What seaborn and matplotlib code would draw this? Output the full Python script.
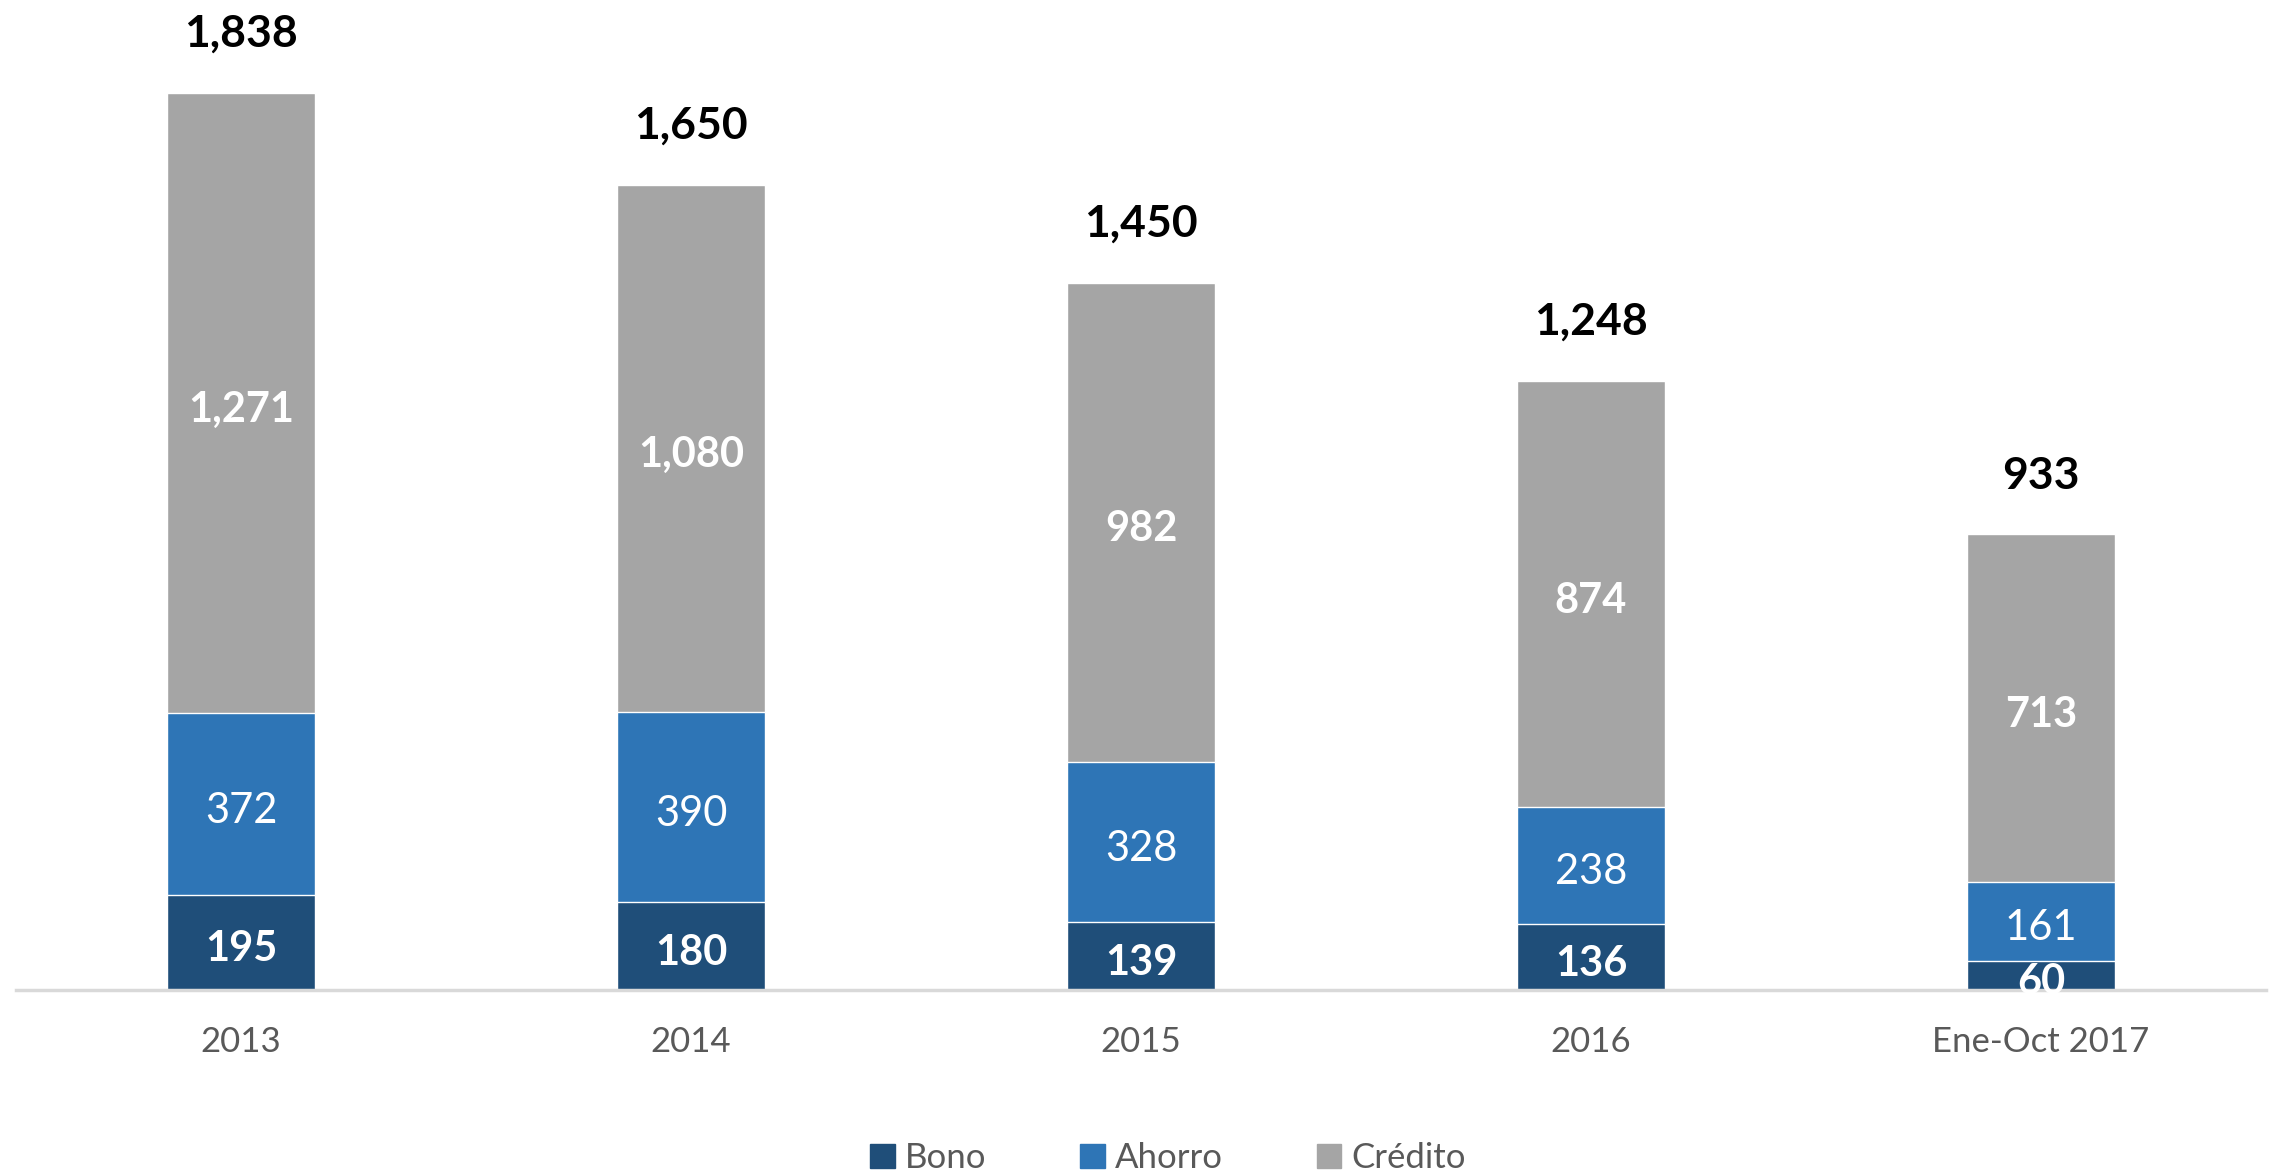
import numpy as np
import pandas as pd
import seaborn as sns
import matplotlib.pyplot as plt
from matplotlib.patches import Patch

periodos = ['2013', '2014', '2015', '2016', 'Ene-Oct 2017']
bono = [195, 180, 139, 136, 60]
ahorro = [372, 390, 328, 238, 161]
credito = [1271, 1080, 982, 874, 713]
totales = [1838, 1650, 1450, 1248, 933]

c_bono = '#1F4E79'
c_ahorro = '#2E75B6'
c_credito = '#A5A5A5'

sns.set_theme(style='white')
plt.rcParams['font.family'] = ['Lato', 'DejaVu Sans']

df = pd.DataFrame({'periodo': periodos, 'bono': bono, 'ahorro': ahorro, 'credito': credito})
df['b_a'] = df['bono'] + df['ahorro']
df['total'] = df['b_a'] + df['credito']

fig = plt.figure(figsize=(22.77, 11.74), dpi=100)
ax = fig.add_axes([16 / 2277, 184 / 1174, 2250 / 2277, 976 / 1174])

# stacked by layering cumulative sums
sns.barplot(data=df, x='periodo', y='total', color=c_credito, width=0.33, saturation=1, ax=ax)
sns.barplot(data=df, x='periodo', y='b_a', color=c_ahorro, width=0.33, saturation=1, ax=ax)
sns.barplot(data=df, x='periodo', y='bono', color=c_bono, width=0.33, saturation=1, ax=ax)

ax.set_xlim(-0.5, 4.5)
ax.set_ylim(0, 2000)
ax.set_xlabel('')
ax.set_ylabel('')
ax.set_yticks([])
for s in ['top', 'right', 'left']:
    ax.spines[s].set_visible(False)
ax.spines['bottom'].set_color('#D9D9D9')
ax.spines['bottom'].set_linewidth(2.5)
ax.tick_params(axis='x', length=0, labelsize=25, labelcolor='#595959', pad=26)

dy = 14  # nudge labels down a touch
for i in range(len(periodos)):
    ax.text(i, bono[i] / 2 - dy, f'{bono[i]:,}', ha='center', va='center',
            color='white', fontsize=30, fontweight='bold')
    ax.text(i, bono[i] + ahorro[i] / 2 - dy, f'{ahorro[i]:,}', ha='center', va='center',
            color='white', fontsize=30)
    ax.text(i, bono[i] + ahorro[i] + credito[i] / 2 - dy, f'{credito[i]:,}', ha='center', va='center',
            color='white', fontsize=30, fontweight='bold')
    ax.text(i, totales[i] + 80, f'{totales[i]:,}', ha='center', va='bottom',
            color='black', fontsize=32, fontweight='bold')

handles = [Patch(color=c_bono, label='Bono'),
           Patch(color=c_ahorro, label='Ahorro'),
           Patch(color=c_credito, label='Crédito')]
leg = fig.legend(handles=handles, loc='lower center', bbox_to_anchor=(0.513, -0.027), ncol=3,
                 frameon=False, fontsize=25, handlelength=0.7, handleheight=0.7,
                 handletextpad=0.3, columnspacing=2.7)
for t in leg.get_texts():
    t.set_color('#595959')

fig.savefig('out.png', dpi=100)
